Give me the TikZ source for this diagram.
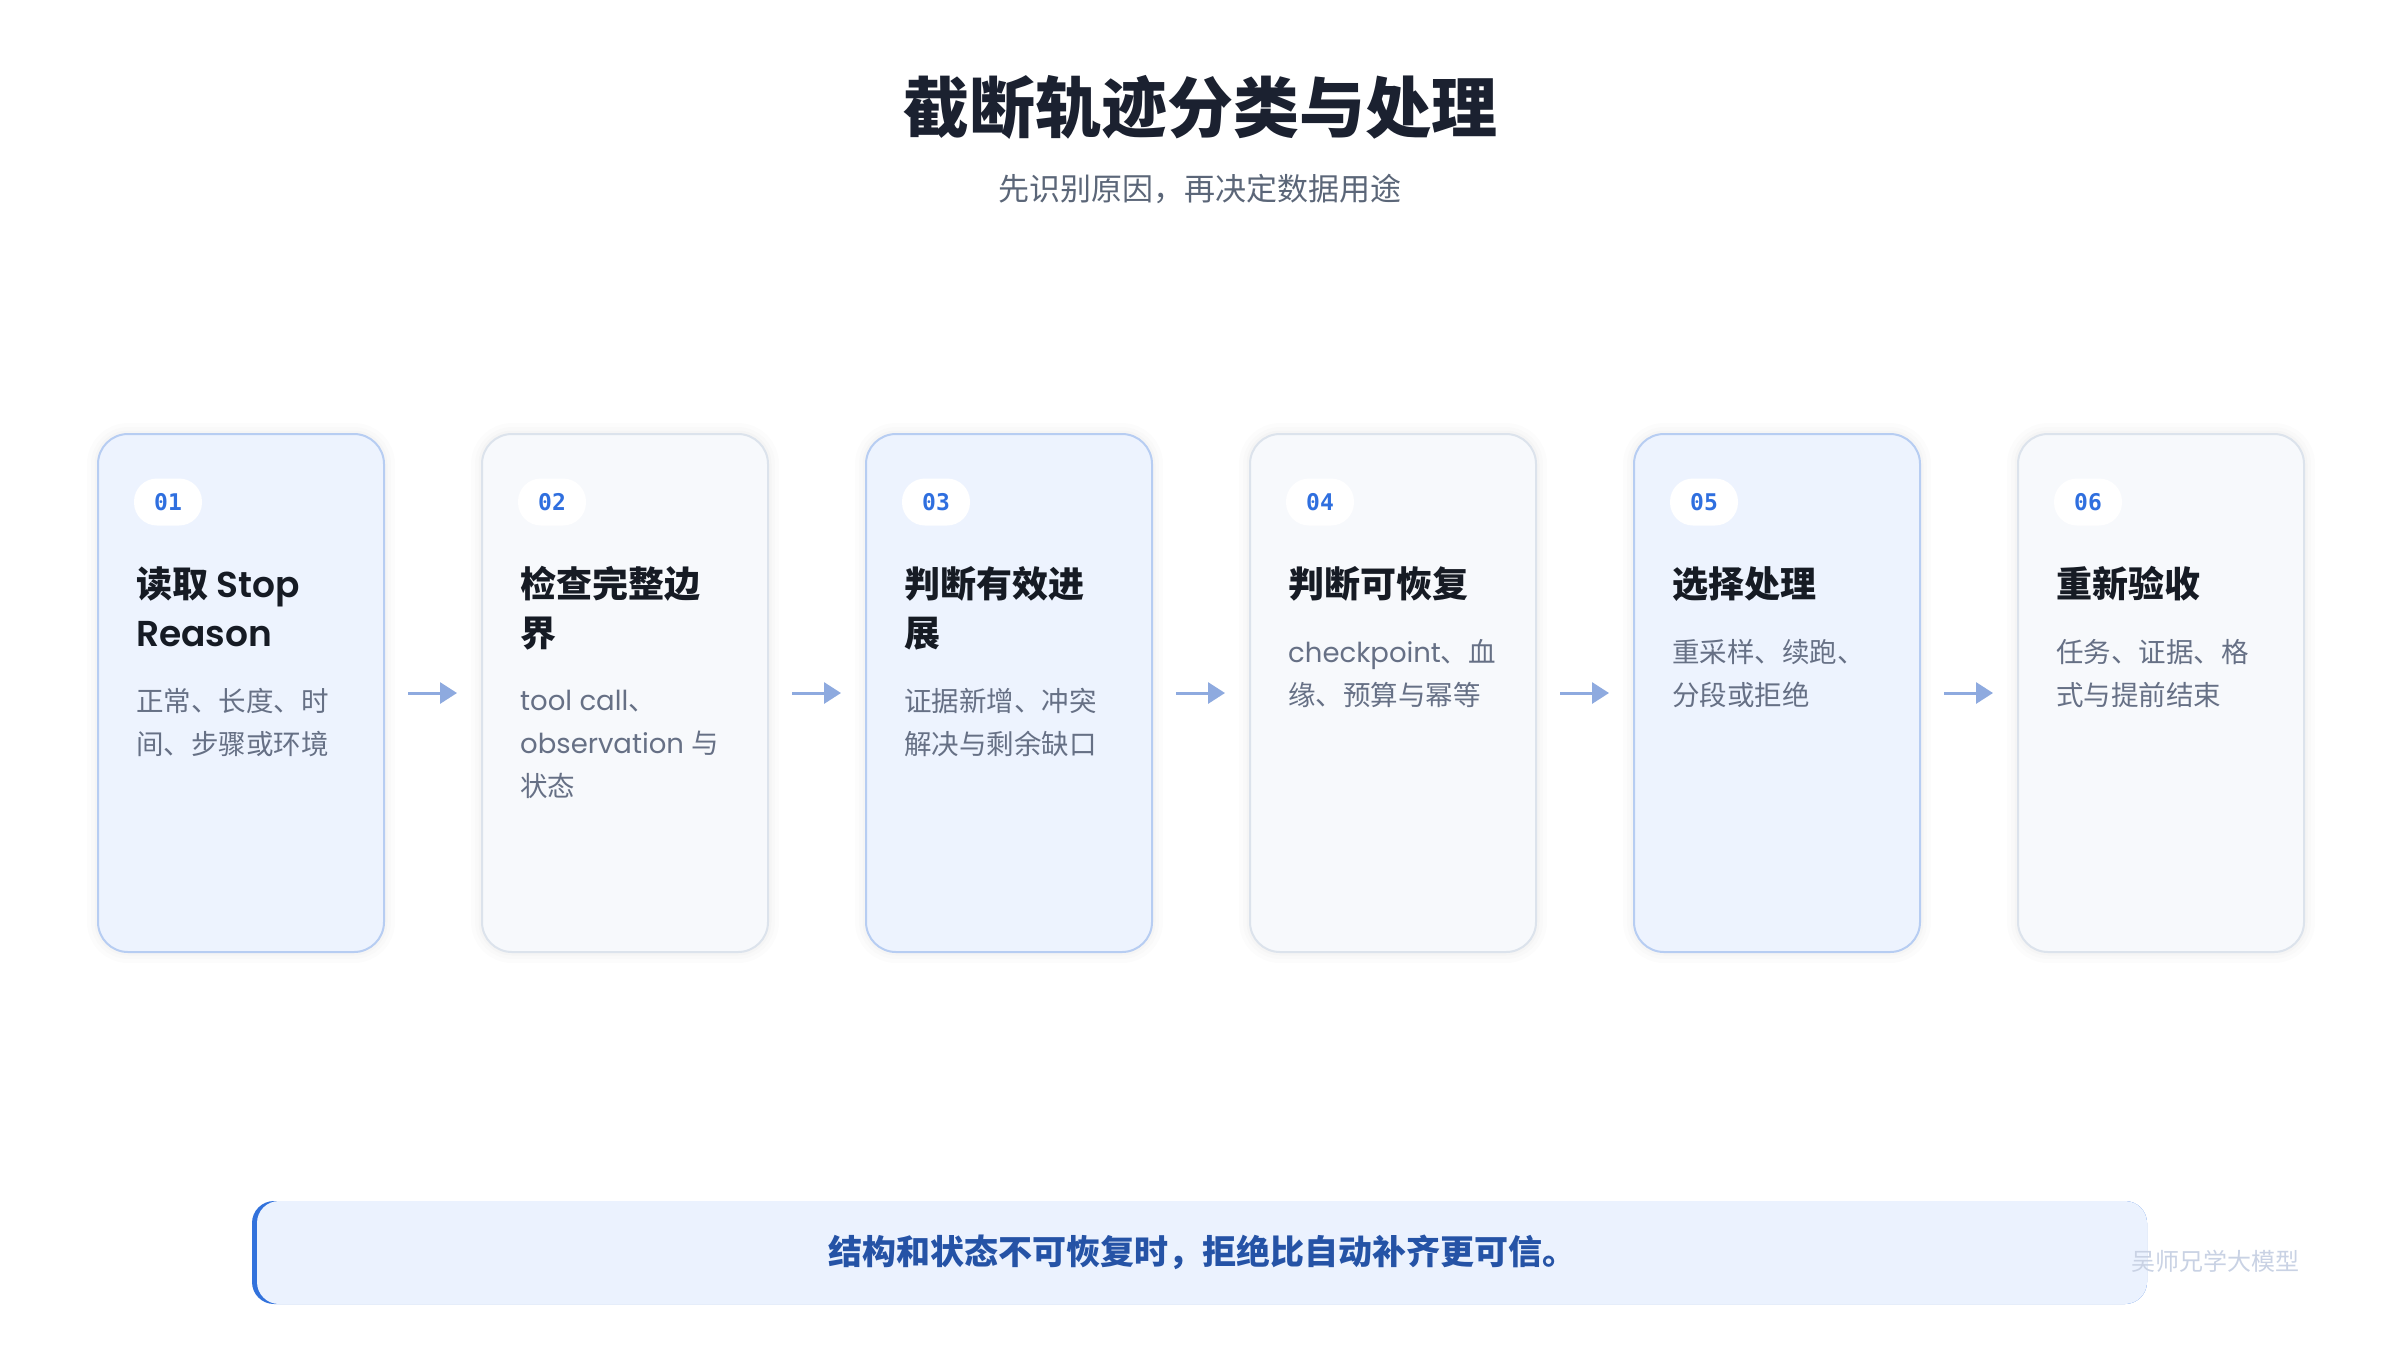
\documentclass[tikz,border=0pt]{standalone}
\usepackage{fontspec}
\setmainfont{Poppins}[BoldFont={Poppins SemiBold}]
\newfontfamily\cjk{Noto Sans CJK SC}
\newfontfamily\monof{DejaVu Sans Mono}
\usetikzlibrary{arrows.meta}
\definecolor{titlec}{HTML}{1B2130}
\definecolor{subc}{HTML}{5B6678}
\definecolor{ttlc}{HTML}{161B24}
\definecolor{dscc}{HTML}{667085}
\definecolor{badgec}{HTML}{2F6FDF}
\definecolor{cardbfill}{HTML}{EDF3FE}
\definecolor{cardbline}{HTML}{B7CDF2}
\definecolor{cardgfill}{HTML}{F7F9FC}
\definecolor{cardgline}{HTML}{DCE3EC}
\definecolor{arrc}{HTML}{8EAADF}
\definecolor{barfill}{HTML}{EBF2FE}
\definecolor{baraccent}{HTML}{3272DC}
\definecolor{barc}{HTML}{2553A6}
\definecolor{wmc}{HTML}{C9D2E4}
\newcommand{\zh}[1]{{\cjk #1}}
\tikzset{
  card/.style={rounded corners=30pt, line width=2pt, minimum width=286pt, minimum height=518pt,
    anchor=north west, inner sep=0pt,
    preaction={draw=black, draw opacity=0.010, line width=22pt},
    preaction={draw=black, draw opacity=0.012, line width=14pt},
    preaction={draw=black, draw opacity=0.014, line width=7pt}},
  cardb/.style={card, fill=cardbfill, draw=cardbline},
  cardg/.style={card, fill=cardgfill, draw=cardgline},
  badge/.style={fill=white, rounded corners=23pt, minimum width=68pt, minimum height=47pt,
    inner sep=0pt, font=\monof\bfseries\fontsize{23}{23}\selectfont, text=badgec},
  % base anchor of a multi-line node = baseline of its LAST line
  ttl/.style={anchor=base west, align=left, inner sep=0pt,
    font=\bfseries\fontsize{36}{49}\selectfont, text=ttlc},
  dsc/.style={anchor=base west, align=left, inner sep=0pt,
    font=\fontsize{27.5}{43}\selectfont, text=dscc},
  arr/.style={draw=arrc, line width=3pt, -{Triangle[length=17pt,width=21pt]},
    shorten <=23pt, shorten >=24pt},
}
\begin{document}
\begin{tikzpicture}[x=1pt,y=-1pt]
\path[use as bounding box, fill=white] (0,0) rectangle (2400,1350);

\node[font=\cjk\bfseries\fontsize{66}{66}\selectfont, text=titlec] (title) at (1200,107) {截断轨迹分类与处理};
\node[font=\cjk\fontsize{31}{31}\selectfont, text=subc] (subtitle) at (1200,189) {先识别原因，再决定数据用途};

% card 1
\node[cardb] (c1) at (97,433) {};
\node[badge] (b1) at (168,502) {01};
\node[ttl] (t1) at (136,646) {\zh{读取} Stop\\Reason};
\node[dsc] (d1) at (136,754.5) {\zh{正常、长度、时}\\\zh{间、步骤或环境}};
% card 2
\node[cardg] (c2) at (481,433) {};
\node[badge] (b2) at (552,502) {02};
\node[ttl] (t2) at (520,646) {\zh{检查完整边}\\\zh{界}};
\node[dsc] (d2) at (520,796) {tool call\zh{、}\\observation \zh{与}\\\zh{状态}};
% card 3
\node[cardb] (c3) at (865,433) {};
\node[badge] (b3) at (936,502) {03};
\node[ttl] (t3) at (904,646) {\zh{判断有效进}\\\zh{展}};
\node[dsc] (d3) at (904,754.5) {\zh{证据新增、冲突}\\\zh{解决与剩余缺口}};
% card 4
\node[cardg] (c4) at (1249,433) {};
\node[badge] (b4) at (1320,502) {04};
\node[ttl] (t4) at (1288,597) {\zh{判断可恢复}};
\node[dsc] (d4) at (1288,705.5) {checkpoint\zh{、血}\\\zh{缘、预算与幂等}};
% card 5
\node[cardb] (c5) at (1633,433) {};
\node[badge] (b5) at (1704,502) {05};
\node[ttl] (t5) at (1672,597) {\zh{选择处理}};
\node[dsc] (d5) at (1672,705.5) {\zh{重采样、续跑、}\\\zh{分段或拒绝}};
% card 6
\node[cardg] (c6) at (2017,433) {};
\node[badge] (b6) at (2088,502) {06};
\node[ttl] (t6) at (2056,597) {\zh{重新验收}};
\node[dsc] (d6) at (2056,705.5) {\zh{任务、证据、格}\\\zh{式与提前结束}};

\draw[arr] (c1.east) -- (c2.west);
\draw[arr] (c2.east) -- (c3.west);
\draw[arr] (c3.east) -- (c4.west);
\draw[arr] (c4.east) -- (c5.west);
\draw[arr] (c5.east) -- (c6.west);

% bottom bar
\fill[baraccent, rounded corners=22pt] (252,1201) rectangle (2147,1304);
\node[fill=barfill, rounded corners=22pt, minimum width=1890pt, minimum height=103pt, inner sep=0pt,
  font=\cjk\bfseries\fontsize{34}{34}\selectfont, text=barc] (bar) at (1202,1252.5)
  {结构和状态不可恢复时，拒绝比自动补齐更可信。};
\node[font=\cjk\fontsize{24}{24}\selectfont, text=wmc] (wm) at (2215,1261) {吴师兄学大模型};
\end{tikzpicture}
\end{document}
